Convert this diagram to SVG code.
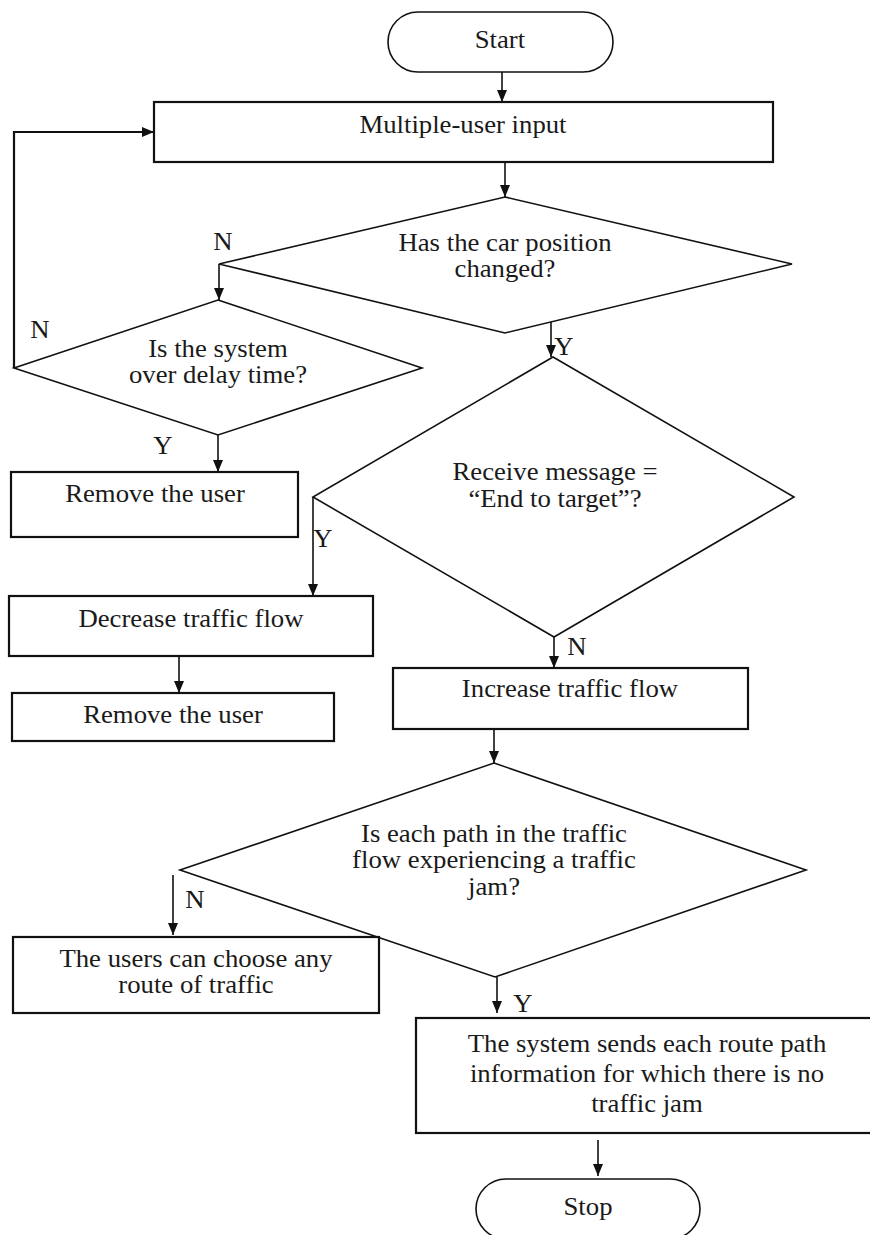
<svg xmlns="http://www.w3.org/2000/svg" width="870" height="1235" viewBox="0 0 870 1235">
  <style>
    .term { fill: #fff; stroke: #111; stroke-width: 1.6; }
    .box { fill: #fff; stroke: #111; stroke-width: 2.2; }
    .dec { fill: #fff; stroke: #111; stroke-width: 1.6; }
    .conn { fill: none; stroke: #111; stroke-width: 1.6; }
    .loop { fill: none; stroke: #111; stroke-width: 2.2; }
    text { font-family: "Liberation Serif", "Times New Roman", serif; font-size: 25px; fill: #1a1a1a; text-anchor: middle;
           transform-box: fill-box; transform-origin: center; transform: scaleX(1.07); }
  </style>
  <defs>
    <marker id="arrow" markerUnits="userSpaceOnUse" markerWidth="12" markerHeight="11" refX="12" refY="5.5" orient="auto">
      <path d="M0,0.5 L12,5.5 L0,10.5 z" fill="#111"/>
    </marker>
  </defs>

  <rect width="870" height="1235" fill="#fff"/>

  <!-- connectors -->
  <g id="connectors">
    <path class="conn" d="M502,72 V102" marker-end="url(#arrow)"/>
    <path class="conn" d="M505,162 V197" marker-end="url(#arrow)"/>
    <path class="conn" d="M219,264 V300" marker-end="url(#arrow)"/>
    <path class="loop" d="M14,368 V132 H154" marker-end="url(#arrow)"/>
    <path class="conn" d="M218,435 V472" marker-end="url(#arrow)"/>
    <path class="conn" d="M551,322 V357" marker-end="url(#arrow)"/>
    <path class="conn" d="M313,497 V596" marker-end="url(#arrow)"/>
    <path class="conn" d="M179,656 V693" marker-end="url(#arrow)"/>
    <path class="conn" d="M554,637 V668" marker-end="url(#arrow)"/>
    <path class="conn" d="M494,729 V763" marker-end="url(#arrow)"/>
    <path class="conn" d="M173,875 V935" marker-end="url(#arrow)"/>
    <path class="conn" d="M497,977 V1013" marker-end="url(#arrow)"/>
    <path class="conn" d="M598,1140 V1176" marker-end="url(#arrow)"/>
  </g>

  <!-- branch labels -->
  <g id="labels">
    <text x="223" y="250">N</text>
    <text x="40" y="338">N</text>
    <text x="564" y="355">Y</text>
    <text x="163" y="454">Y</text>
    <text x="323" y="547">Y</text>
    <text x="577" y="655">N</text>
    <text x="195" y="908">N</text>
    <text x="523" y="1012">Y</text>
  </g>

  <g id="start">
    <rect class="term" x="388" y="12" width="225" height="60" rx="30" ry="30"/>
    <text x="500" y="48">Start</text>
  </g>

  <g id="multi-user-input">
    <rect class="box" x="154" y="102" width="619" height="60"/>
    <text x="463" y="133">Multiple-user input</text>
  </g>

  <g id="position-changed">
    <polygon class="dec" points="505,197 792,264 505,333 219,264"/>
    <text x="505" y="251">Has the car position</text>
    <text x="505" y="277">changed?</text>
  </g>

  <g id="over-delay">
    <polygon class="dec" points="218,300 422,368 218,435 14,368"/>
    <text x="218" y="357">Is the system</text>
    <text x="218" y="383">over delay time?</text>
  </g>

  <g id="remove-user-1">
    <rect class="box" x="11" y="472" width="287" height="65"/>
    <text x="155" y="502">Remove the user</text>
  </g>

  <g id="end-to-target">
    <polygon class="dec" points="553,357 794,497 554,637 313,497"/>
    <text x="555" y="480">Receive message =</text>
    <text x="555" y="507">“End to target”?</text>
  </g>

  <g id="decrease-flow">
    <rect class="box" x="9" y="596" width="364" height="60"/>
    <text x="191" y="627">Decrease traffic flow</text>
  </g>

  <g id="remove-user-2">
    <rect class="box" x="12" y="693" width="322" height="48"/>
    <text x="173" y="723">Remove the user</text>
  </g>

  <g id="increase-flow">
    <rect class="box" x="393" y="668" width="355" height="61"/>
    <text x="570" y="697">Increase traffic flow</text>
  </g>

  <g id="path-jam">
    <polygon class="dec" points="494,763 806,870 495,977 180,870"/>
    <text x="494" y="842">Is each path in the traffic</text>
    <text x="494" y="868">flow experiencing a traffic</text>
    <text x="494" y="895">jam?</text>
  </g>

  <g id="choose-any-route">
    <rect class="box" x="13" y="937" width="366" height="76"/>
    <text x="196" y="967">The users can choose any</text>
    <text x="196" y="993">route of traffic</text>
  </g>

  <g id="send-route-info">
    <rect class="box" x="416" y="1018" width="470" height="115"/>
    <text x="647" y="1052">The system sends each route path</text>
    <text x="647" y="1082">information for which there is no</text>
    <text x="647" y="1112">traffic jam</text>
  </g>

  <g id="stop">
    <rect class="term" x="476" y="1179" width="224" height="60" rx="30" ry="30"/>
    <text x="588" y="1215">Stop</text>
  </g>
</svg>
